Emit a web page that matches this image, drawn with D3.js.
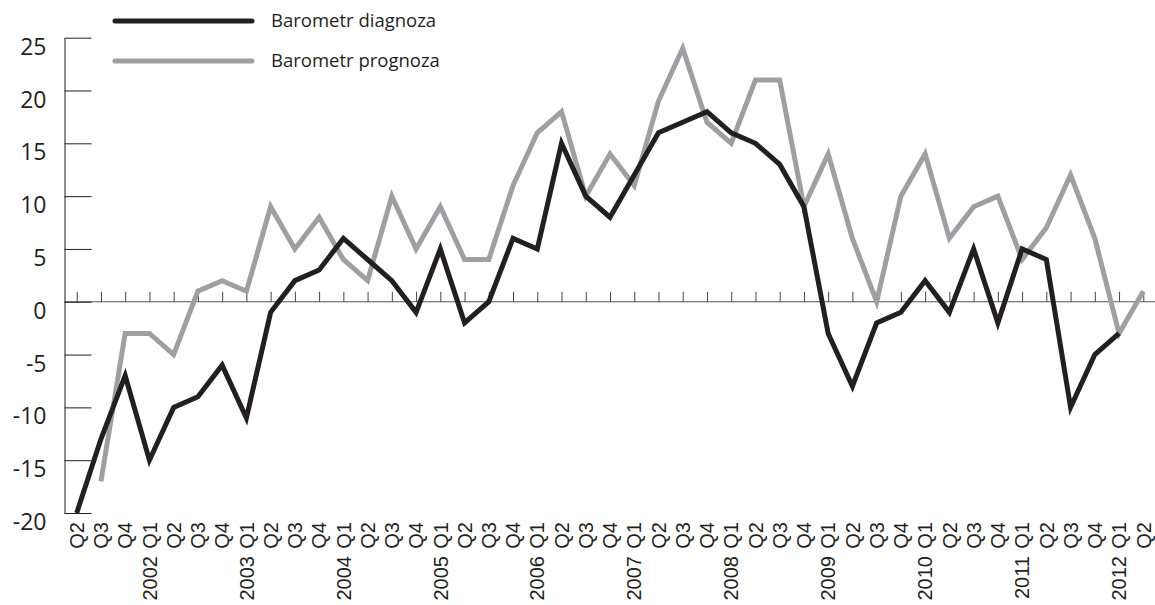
<!DOCTYPE html>
<html>
<head>
<meta charset="utf-8">
<script src="https://cdn.jsdelivr.net/npm/d3@7"></script>
<style>
  html, body { margin: 0; padding: 0; background: #fff; }
  svg { display: block; }
</style>
</head>
<body>
<svg id="chart"></svg>
<script>
// Barometr diagnoza / prognoza, quarterly 2001 Q2 - 2012 Q2
var quarters = [
  "Q2", "Q3", "Q4",
  "Q1", "Q2", "Q3", "Q4",
  "Q1", "Q2", "Q3", "Q4",
  "Q1", "Q2", "Q3", "Q4",
  "Q1", "Q2", "Q3", "Q4",
  "Q1", "Q2", "Q3", "Q4",
  "Q1", "Q2", "Q3", "Q4",
  "Q1", "Q2", "Q3", "Q4",
  "Q1", "Q2", "Q3", "Q4",
  "Q1", "Q2", "Q3", "Q4",
  "Q1", "Q2", "Q3", "Q4",
  "Q1", "Q2"
];
// year label sits under the Q1 of each year (index into quarters)
var years = ["2002", "2003", "2004", "2005", "2006", "2007", "2008", "2009", "2010", "2011", "2012"];
var yearIndex = [3, 7, 11, 15, 19, 23, 27, 31, 35, 39, 43];

var diagnoza = [
  -20, -13, -7,
  -15, -10, -9, -6,
  -11, -1, 2, 3,
  6, 4, 2, -1,
  5, -2, 0, 6,
  5, 15, 10, 8,
  12, 16, 17, 18,
  16, 15, 13, 9,
  -3, -8, -2, -1,
  2, -1, 5, -2,
  5, 4, -10, -5,
  -3, null
];
var prognoza = [
  null, -17, -3,
  -3, -5, 1, 2,
  1, 9, 5, 8,
  4, 2, 10, 5,
  9, 4, 4, 11,
  16, 18, 10, 14,
  11, 19, 24, 17,
  15, 21, 21, 9,
  14, 6, 0, 10,
  14, 6, 9, 10,
  4, 7, 12, 6,
  -3, 1
];
var yTicks = [-20, -15, -10, -5, 0, 5, 10, 15, 20, 25];
var seriesNames = ["Barometr diagnoza", "Barometr prognoza"];

var width = 1155, height = 605;
var ink = "#231f20";
var colours = ["#231f20", "#9d9fa2"];
var font = "'Open Sans', sans-serif";
var tickFont = "'Liberation Sans', Arial, sans-serif";

var svg = d3.select("#chart")
  .attr("width", width)
  .attr("height", height)
  .style("font-family", font);

var x = d3.scaleLinear().domain([0, quarters.length - 1]).range([76.7, 1143.3]);
var y = d3.scaleLinear().domain([-20, 25]).range([513, 37.7]);
var axisX = 64.5;

// zero line with small quarter ticks on top
svg.append("line")
  .attr("x1", axisX).attr("x2", width)
  .attr("y1", y(0)).attr("y2", y(0))
  .attr("stroke", "#555");

var xAxis = svg.append("g")
  .attr("transform", "translate(0," + y(0) + ")")
  .call(d3.axisTop(x).tickValues(d3.range(quarters.length)).tickSize(10).tickFormat(""));
xAxis.select(".domain").remove();
xAxis.selectAll(".tick line").attr("stroke", "#444");

// y axis: ticks point inwards, labels sit just under each tick
var yAxis = svg.append("g")
  .attr("transform", "translate(" + axisX + ",0)")
  .call(d3.axisLeft(y)
    .tickValues(yTicks)
    .tickFormat(function (d) { return String(d); })
    .tickSizeInner(-27).tickSizeOuter(0).tickPadding(18));
yAxis.select(".domain").attr("stroke", ink);
yAxis.selectAll(".tick line").attr("stroke", ink);
yAxis.selectAll(".tick text")
  .attr("dy", "0.72em")
  .attr("fill", ink)
  .style("font-family", font)
  .style("font-size", "23px");

// quarter labels, rotated
svg.append("g")
  .style("font-family", tickFont)
  .style("font-size", "20px")
  .selectAll("text")
  .data(quarters)
  .join("text")
  .attr("transform", function (d, i) { return "translate(" + x(i) + ",522) rotate(-90)"; })
  .attr("text-anchor", "end")
  .attr("dy", "0.36em")
  .attr("fill", ink)
  .text(function (d) { return d; });

svg.append("g")
  .style("font-family", tickFont)
  .style("font-size", "20px")
  .selectAll("text")
  .data(years)
  .join("text")
  .attr("transform", function (d, i) { return "translate(" + x(yearIndex[i]) + ",556) rotate(-90)"; })
  .attr("text-anchor", "end")
  .attr("dy", "0.36em")
  .attr("fill", ink)
  .text(function (d) { return d; });

// series lines, black drawn last so it sits on top
var line = d3.line()
  .defined(function (d) { return d != null; })
  .x(function (d, i) { return x(i); })
  .y(function (d) { return y(d); });

[prognoza, diagnoza].forEach(function (series, k) {
  svg.append("path")
    .datum(series)
    .attr("fill", "none")
    .attr("stroke", colours[1 - k])
    .attr("stroke-width", 5)
    .attr("stroke-linejoin", "miter")
    .attr("d", line);
});

// legend
var legend = svg.append("g")
  .selectAll("g")
  .data(seriesNames)
  .join("g")
  .attr("transform", function (d, i) { return "translate(0," + (21 + i * 40) + ")"; });

legend.append("line")
  .attr("x1", 115).attr("x2", 252)
  .attr("stroke", function (d, i) { return colours[i]; })
  .attr("stroke-width", 5)
  .attr("stroke-linecap", "round");

legend.append("text")
  .attr("x", 271)
  .attr("dy", "0.35em")
  .attr("fill", ink)
  .style("font-size", "18.5px")
  .text(function (d) { return d; });
</script>
</body>
</html>
